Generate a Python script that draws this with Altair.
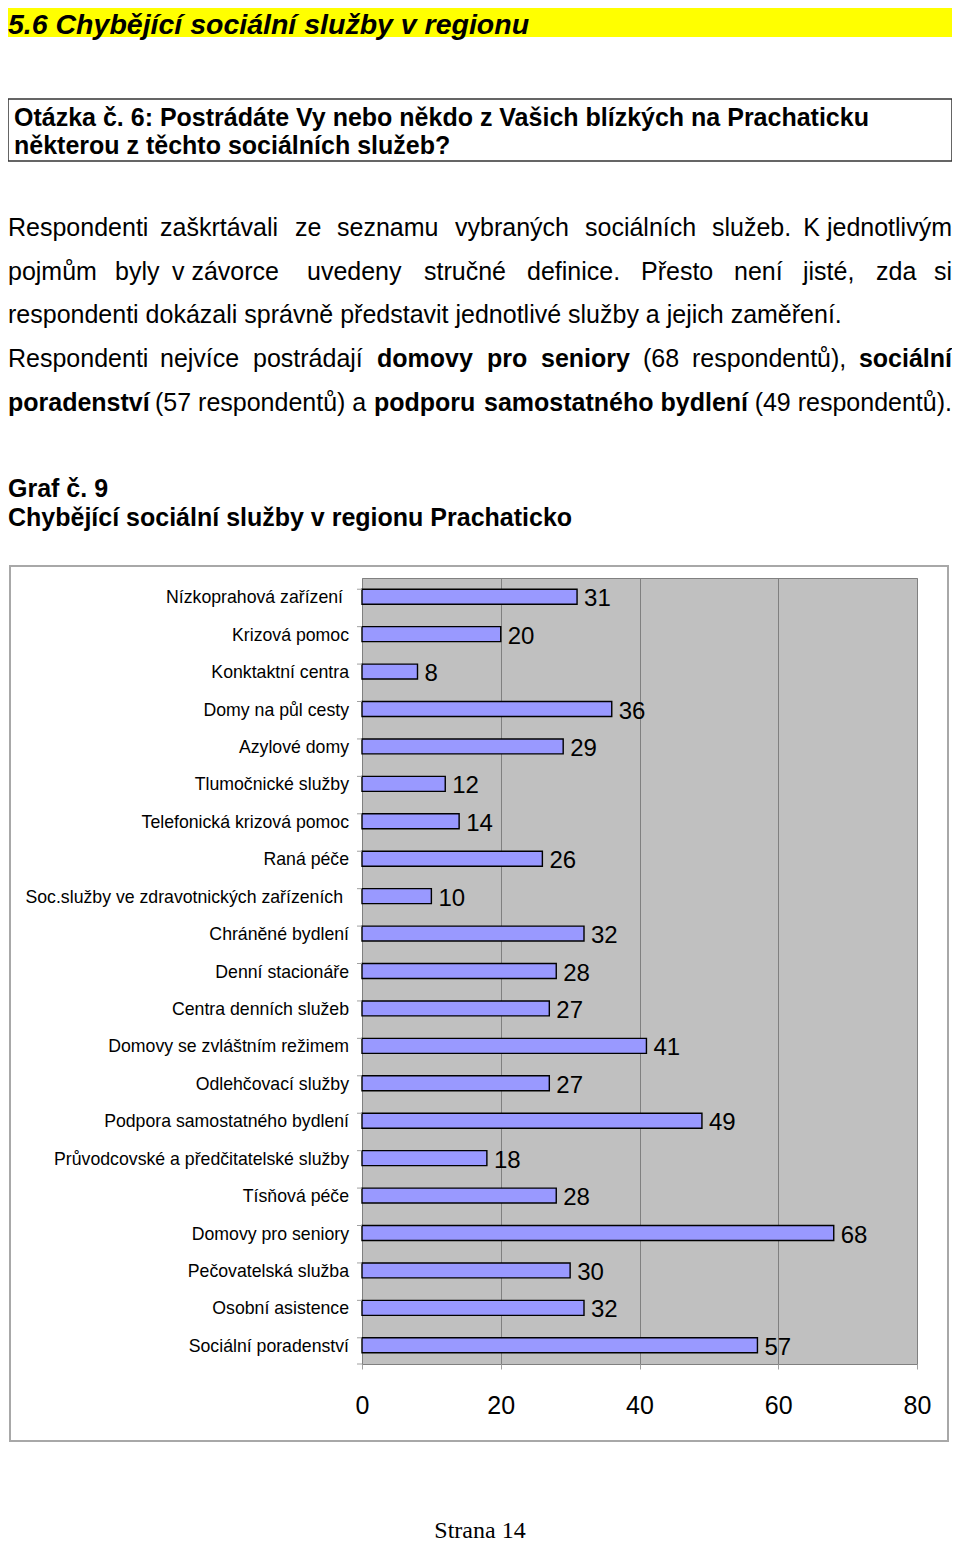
import altair as alt
import pandas as pd

# ---------------- chart data ----------------
categories = [
    "Nízkoprahová zařízení", "Krizová pomoc", "Konktaktní centra", "Domy na půl cesty",
    "Azylové domy", "Tlumočnické služby", "Telefonická krizová pomoc", "Raná péče",
    "Soc.služby ve zdravotnických zařízeních", "Chráněné bydlení", "Denní stacionáře",
    "Centra denních služeb", "Domovy se zvláštním režimem", "Odlehčovací služby",
    "Podpora samostatného bydlení", "Průvodcovské a předčitatelské služby", "Tísňová péče",
    "Domovy pro seniory", "Pečovatelská služba", "Osobní asistence", "Sociální poradenství",
]
values = [31, 20, 8, 36, 29, 12, 14, 26, 10, 32, 28, 27, 41, 27, 49, 18, 28, 68, 30, 32, 57]
x_ticks = [0, 20, 40, 60, 80]
# labels that carry a trailing space in the original (printed slightly further left)
trailing_space_labels = ["Nízkoprahová zařízení", "Soc.služby ve zdravotnických zařízeních"]

df = pd.DataFrame({"cat": categories, "val": values})
df["trail"] = df["cat"].isin(trailing_space_labels)

# ---------------- page texts ----------------
header_text = "5.6 Chybějící sociální služby v regionu"
question_lines = [
    "Otázka č. 6: Postrádáte Vy nebo někdo z Vašich blízkých na Prachaticku",
    "některou z těchto sociálních služeb?",
]
# (text, x, bold, right-aligned)
para_lines = [
    (236, [("Respondenti", 5, False, False), ("zaškrtávali", 160, False, False), ("ze", 295, False, False),
           ("seznamu", 337, False, False), ("vybraných", 455, False, False), ("sociálních", 585, False, False),
           ("služeb.", 712, False, False), ("K jednotlivým", 953, False, True)]),
    (280, [("pojmům", 5, False, False), ("byly", 115, False, False), ("v závorce", 172, False, False),
           ("uvedeny", 307, False, False), ("stručné", 424, False, False), ("definice.", 527, False, False),
           ("Přesto", 641, False, False), ("není", 734, False, False), ("jisté,", 803, False, False),
           ("zda", 876, False, False), ("si", 953, False, True)]),
    (323, [("respondenti dokázali správně představit jednotlivé služby a jejich zaměření.", 5, False, False)]),
    (367, [("Respondenti", 5, False, False), ("nejvíce", 160, False, False), ("postrádají", 253, False, False),
           ("domovy", 377, True, False), ("pro", 487, True, False), ("seniory", 541, True, False),
           ("(68", 643, False, False), ("respondentů),", 692, False, False), ("sociální", 953, True, True)]),
    (411, [("poradenství", 5, True, False), ("(57 respondentů) a", 155, False, False),
           ("podporu", 374, True, False), ("samostatného", 484, True, False),
           ("bydlení", 748, True, True), ("(49 respondentů).", 953, False, True)]),
]
graf_lines = ["Graf č. 9", "Chybějící sociální služby v regionu Prachaticko"]
footer_text = "Strana 14"

# ---------------- layout (page pixel coords) ----------------
PLOT_X0, PLOT_Y0 = 362, 578
PLOT_W, PLOT_H = 555, 786
SVG_W, SVG_H = 944, 1536
PAD_L, PAD_T = PLOT_X0 - 8, PLOT_Y0 - 8
PAD_R = SVG_W - PAD_L - PLOT_W
PAD_B = SVG_H - PAD_T - PLOT_H
FONT = "Liberation Sans"


def px(x):
    return max(x, 8) - PLOT_X0


def py(y):
    return y - PLOT_Y0


def one_row():
    return alt.Data(values=[{"k": 1}])


def txt(s, x, y, size, bold=False, italic=False, align="left", font=FONT):
    return alt.Chart(alt.Data(values=[{"t": s}])).mark_text(
        align=align, baseline="alphabetic", fontSize=size,
        fontWeight="bold" if bold else "normal",
        fontStyle="italic" if italic else "normal",
        font=font, color="black",
    ).encode(x=alt.value(px(min(x, 952))), y=alt.value(py(y)), text="t:N")


def box(x1, y1, x2, y2, fill=None, stroke=None, sw=1):
    kw = {}
    if fill is not None:
        kw["fill"] = fill
    else:
        kw["filled"] = False
        kw["fillOpacity"] = 0
    if stroke is not None:
        kw["stroke"] = stroke
        kw["strokeWidth"] = sw
    return alt.Chart(one_row()).mark_rect(**kw).encode(
        x=alt.value(px(x1)), x2=alt.value(px(min(x2, 952))),
        y=alt.value(py(y1)), y2=alt.value(py(y2)),
    )


layers = []
# header
layers.append(box(5, 3, 955, 37, fill="#ffff00"))
layers.append(txt(header_text, 6, 34, 28.5, bold=True, italic=True))
# question box
layers.append(box(5, 99, 955, 161, stroke="#333333", sw=1.5))
layers.append(txt(question_lines[0], 14, 126, 25, bold=True))
layers.append(txt(question_lines[1], 14, 154, 25, bold=True))
# paragraph
for base, words in para_lines:
    for w, x, b, r in words:
        layers.append(txt(w, x, base, 25, bold=b, align="right" if r else "left"))
# graph title
layers.append(txt(graf_lines[0], 5, 497, 25, bold=True))
layers.append(txt(graf_lines[1], 5, 526, 25, bold=True))
# chart frame
layers.append(box(10, 566, 948, 1441, stroke="#a8a8a8", sw=2))
# footer
layers.append(txt(footer_text, 480, 1538, 24, align="center", font="Liberation Serif"))

# ---------------- chart ----------------
x_enc = alt.X("val:Q", scale=alt.Scale(domain=[0, 80], nice=False),
              axis=alt.Axis(values=x_ticks, title=None, domain=False, grid=True,
                            gridColor="#808080", gridWidth=1, tickSize=5, tickColor="#a0a0a0",
                            labelFontSize=25, labelFont=FONT, labelColor="black",
                            labelPadding=24, labelFlush=False))
y_enc = alt.Y("cat:N", sort=categories,
              scale=alt.Scale(paddingInner=0.6, paddingOuter=0.3), axis=None)
y_plain = alt.Y("cat:N", sort=categories)

bars = alt.Chart(df).mark_bar(fill="#9999ff", stroke="#000000", strokeWidth=1.4).encode(x=x_enc, y=y_enc)
vals = alt.Chart(df).mark_text(align="left", baseline="middle", dx=7, dy=2.5,
                               fontSize=24, font=FONT, color="black").encode(
    x=alt.X("val:Q"), y=y_plain, text="val:Q")
labels_a = alt.Chart(df).transform_filter("!datum.trail").mark_text(
    align="right", baseline="middle", dx=-13, dy=1.5, fontSize=17.7, font=FONT, color="black").encode(
    x=alt.value(0), y=y_plain, text="cat:N")
labels_b = alt.Chart(df).transform_filter("datum.trail").mark_text(
    align="right", baseline="middle", dx=-19, dy=1.5, fontSize=17.7, font=FONT, color="black").encode(
    x=alt.value(0), y=y_plain, text="cat:N")
yticks = alt.Chart(df).mark_rule(color="#a0a0a0", strokeWidth=1).encode(
    y=alt.Y("cat:N", sort=categories, bandPosition=0),
    x=alt.value(-5), x2=alt.value(0))
ytick_bottom = alt.Chart(one_row()).mark_rule(color="#a0a0a0", strokeWidth=1).encode(
    y=alt.value(PLOT_H), x=alt.value(-5), x2=alt.value(0))

chart = alt.layer(*layers, bars, vals, labels_a, labels_b, yticks, ytick_bottom).properties(
    width=PLOT_W, height=PLOT_H,
    autosize=alt.AutoSizeParams(type="none"),
    padding={"left": PAD_L, "top": PAD_T, "right": PAD_R, "bottom": PAD_B},
    background="white",
).configure_view(fill="#c0c0c0", stroke="#808080", strokeWidth=1)

chart.save("out.html", embed_options={"renderer": "svg", "actions": False})
